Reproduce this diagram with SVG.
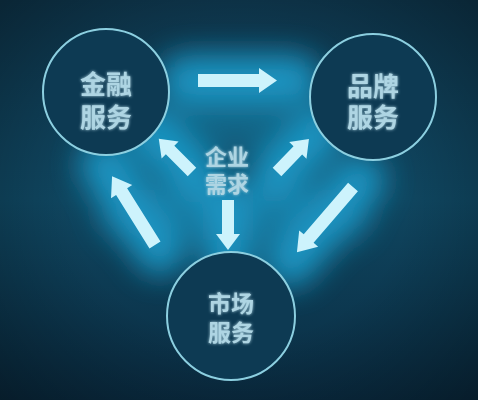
<svg xmlns="http://www.w3.org/2000/svg" width="478" height="400" viewBox="0 0 478 400">
  <defs>
    <linearGradient id="bg" x1="0" y1="0" x2="0" y2="1">
      <stop offset="0" stop-color="#0f3a52"/>
      <stop offset="0.5" stop-color="#0f4660"/>
      <stop offset="1" stop-color="#0a2c42"/>
    </linearGradient>
    <radialGradient id="vig" cx="0.5" cy="0.5" r="0.7">
      <stop offset="0.5" stop-color="#000" stop-opacity="0"/>
      <stop offset="1" stop-color="#000" stop-opacity="0.35"/>
    </radialGradient>
    <filter id="blur" x="-50%" y="-50%" width="200%" height="200%">
      <feGaussianBlur stdDeviation="15"/>
    </filter>
    <filter id="soft" x="-20%" y="-20%" width="140%" height="140%">
      <feGaussianBlur stdDeviation="0.6"/>
    </filter>
    <filter id="tglow" x="-20%" y="-20%" width="140%" height="140%">
      <feGaussianBlur in="SourceGraphic" stdDeviation="1.5" result="b"/>
      <feMerge><feMergeNode in="b"/><feMergeNode in="SourceGraphic"/></feMerge>
    </filter>
  </defs>
  <style>
    .node circle { fill: #0d3a53; stroke: #8ccfe0; stroke-width: 2; }
    .lbl { font-family: "Noto Sans CJK SC", "Noto Sans", sans-serif; font-weight: bold; fill: #aed5e3; text-anchor: middle; }
    .arrow { fill: #cdf3fc; }
    .glow { fill: none; stroke: #1a9ac8; stroke-width: 50; stroke-linecap: round; }
  </style>
  <rect width="478" height="400" fill="url(#bg)"/>
  <rect width="478" height="400" fill="url(#vig)"/>

  <g id="glow" filter="url(#blur)" opacity="0.95">
    <path class="glow" d="M185,80 H295"/>
    <path class="glow" d="M195,178 L150,130"/>
    <path class="glow" d="M275,178 L320,130"/>
    <path class="glow" d="M228,205 V258"/>
    <path class="glow" d="M160,250 L105,165"/>
    <path class="glow" d="M360,180 L290,262"/>
    <path class="glow" d="M125,215 L345,215" stroke-width="60" opacity="0.6"/>
    <path class="glow" d="M185,130 L275,130" stroke-width="40" opacity="0.4"/>
  </g>

  <g id="n1" class="node">
    <circle cx="106" cy="92" r="63"/>
    <text class="lbl" font-size="26" filter="url(#tglow)"><tspan x="106" y="94">金融</tspan><tspan x="106" y="127">服务</tspan></text>
  </g>
  <g id="n2" class="node">
    <circle cx="373" cy="97" r="63"/>
    <text class="lbl" font-size="26" filter="url(#tglow)"><tspan x="373" y="96">品牌</tspan><tspan x="373" y="127">服务</tspan></text>
  </g>
  <g id="n3" class="node">
    <circle cx="231" cy="316" r="64"/>
    <text class="lbl" font-size="23" filter="url(#tglow)"><tspan x="231" y="312">市场</tspan><tspan x="231" y="341">服务</tspan></text>
  </g>
  <g id="center">
    <text class="lbl" font-size="22" fill="#a8dcec" filter="url(#tglow)"><tspan x="227" y="165">企业</tspan><tspan x="227" y="192">需求</tspan></text>
  </g>

  <g id="connectors" class="arrow" filter="url(#soft)">
    <path transform="translate(198,80.5)" d="M0,-6.5 H61 V-12.5 L79,0 L61,12.5 V6.5 H0 Z"/>
    <path transform="translate(192,172) rotate(225)" d="M0,-6 H31 V-12 L47,0 L31,12 V6 H0 Z"/>
    <path transform="translate(277,172) rotate(-46)" d="M0,-6 H30 V-12 L46,0 L30,12 V6 H0 Z"/>
    <path transform="translate(228,200) rotate(90)" d="M0,-6 H34 V-12 L50,0 L34,12 V6 H0 Z"/>
    <path transform="translate(155,245) rotate(238)" d="M0,-6.5 H63 V-12.5 L81,0 L63,12.5 V6.5 H0 Z"/>
    <path transform="translate(353,187) rotate(130.7)" d="M0,-6.5 H68 V-12.5 L86,0 L68,12.5 V6.5 H0 Z"/>
  </g>
</svg>
